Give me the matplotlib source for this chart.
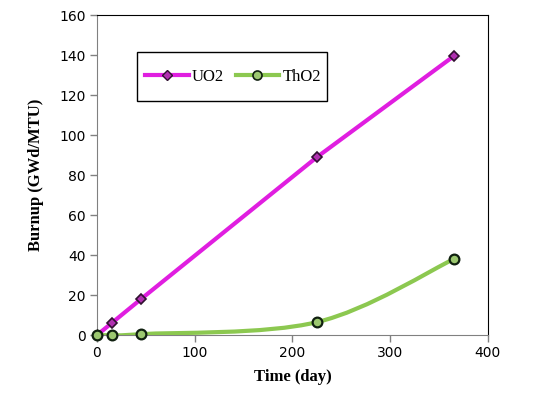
import matplotlib
matplotlib.use("Agg")
import matplotlib.pyplot as plt
from matplotlib.path import Path
from matplotlib.patches import PathPatch, Rectangle
from matplotlib.lines import Line2D
import numpy as np

days = [0, 15, 45, 225, 365]
uo2 = [0, 6, 18, 89, 139.5]
tho2 = [0, 0, 0.5, 6.5, 38]

x_ticks = [0, 100, 200, 300, 400]
y_ticks = [0, 20, 40, 60, 80, 100, 120, 140, 160]

pink = "#E01EE0"
pink_marker = "#B030B0"
green = "#8CC850"
green_marker = "#9CC870"


def smooth_path(xs, ys, tension=1 / 6):
    # Excel-style smoothed line: cubic bezier through points
    xs = np.asarray(xs, float)
    ys = np.asarray(ys, float)
    verts = [(xs[0], ys[0])]
    codes = [Path.MOVETO]
    n = len(xs)
    for i in range(n - 1):
        p0 = np.array([xs[max(i - 1, 0)], ys[max(i - 1, 0)]])
        p1 = np.array([xs[i], ys[i]])
        p2 = np.array([xs[i + 1], ys[i + 1]])
        p3 = np.array([xs[min(i + 2, n - 1)], ys[min(i + 2, n - 1)]])
        c1 = p1 + (p2 - p0) * tension
        c2 = p2 - (p3 - p1) * tension
        verts += [tuple(c1), tuple(c2), tuple(p2)]
        codes += [Path.CURVE4] * 3
    return Path(verts, codes)


fig = plt.figure(figsize=(5.57, 3.99), dpi=100)
ax = fig.add_axes([0.174, 0.160, 0.702, 0.802])

ax.plot(days, uo2, color=pink, lw=3, solid_capstyle="round", zorder=3)
ax.plot(days, uo2, ls="none", marker="D", ms=5.5, mfc=pink_marker,
        mec="#301030", mew=1.2, zorder=5)

ax.add_patch(PathPatch(smooth_path(days, tho2), fc="none", ec=green, lw=3,
                       capstyle="round", zorder=3))
ax.plot(days, tho2, ls="none", marker="o", ms=7, mfc=green_marker,
        mec="#102010", mew=1.6, zorder=5, clip_on=False)

ax.set_xlim(0, 400)
ax.set_ylim(0, 160)
ax.set_xticks(x_ticks)
ax.set_yticks(y_ticks)
ax.tick_params(direction="out", length=5, color="#808080", width=1,
               labelsize=10, pad=3)
for s in ["left", "bottom"]:
    ax.spines[s].set_color("#808080")
for s in ["top", "right"]:
    ax.spines[s].set_color("black")

lab_font = dict(family="Liberation Serif", weight="bold", size=12)
ax.set_xlabel("Time (day)", fontdict=lab_font, labelpad=6)
ax.set_ylabel("Burnup (GWd/MTU)", fontdict=lab_font, labelpad=11)

# legend frame
W, H = 557, 399
fig.patches.append(Rectangle((137 / W, 1 - 101 / H), 190 / W, 49 / H,
                             transform=fig.transFigure, fc="white",
                             ec="black", lw=1.0, zorder=10))

handles = [
    Line2D([], [], color=pink, lw=3, marker="D", ms=5.5, mfc=pink_marker,
           mec="#301030", mew=1.0),
    Line2D([], [], color=green, lw=3, marker="o", ms=6.5, mfc=green_marker,
           mec="#102010", mew=1.2),
]
leg = fig.legend(handles, ["UO2", "ThO2"], loc="center",
                 bbox_to_anchor=(233 / W, 1 - 77 / H), ncol=2,
                 prop=dict(family="Liberation Serif", size=12),
                 frameon=False, handlelength=2.6, handletextpad=0.2,
                 columnspacing=0.7, borderpad=0, borderaxespad=0)
leg.set_zorder(11)

fig.savefig("out.png", dpi=100)
